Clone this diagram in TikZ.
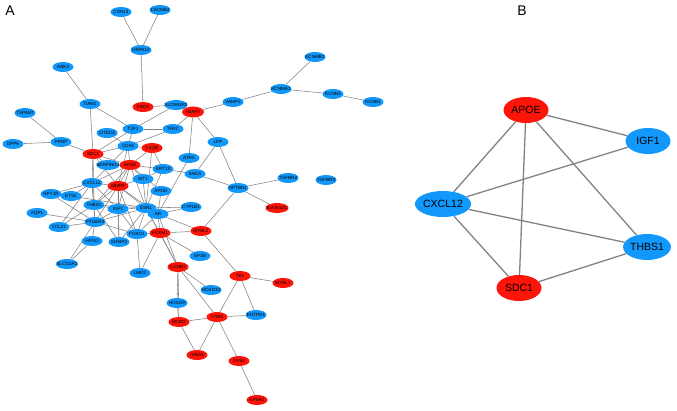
\documentclass[tikz,border=0pt]{standalone}
\usepackage{fontspec}
\setmainfont{Liberation Sans}
\usetikzlibrary{shapes.geometric}
\definecolor{nblue}{RGB}{17,152,250}
\definecolor{nred}{RGB}{254,20,8}
\definecolor{egray}{RGB}{130,130,130}
\pgfdeclarelayer{bg}\pgfsetlayers{bg,main}
\newcommand\glab[1]{\makebox[0pt]{#1}}
\begin{document}
\begin{tikzpicture}[x=1pt,y=-1pt,
 ga/.style={ellipse, inner sep=0pt, minimum width=21pt, minimum height=10pt, font=\fontsize{4.6}{5}\selectfont, text=black},
 nb/.style={ga, fill=nblue},
 nr/.style={ga, fill=nred},
 gb/.style={ellipse, inner sep=0pt, minimum width=45pt, minimum height=26pt, font=\fontsize{10.5}{12}\selectfont, text=black},
 bb/.style={gb, fill=nblue},
 br/.style={gb, fill=nred},
 ea/.style={draw=egray, line width=0.55pt},
 eb/.style={draw=egray, line width=1.3pt},
 plab/.style={font=\fontsize{14}{16}\selectfont, inner sep=0pt}]
\useasboundingbox (0,0) rectangle (677,411);
\node[plab] (labA) at (10,11) {A};
\node[plab] (labB) at (522,11) {B};
% ---- panel A nodes
\node[nb] (CDH13) at (121,12) {\glab{CDH13}};
\node[nb] (CACNB2) at (160,10) {\glab{CACNB2}};
\node[nb] (HSPA12) at (141,50) {\glab{HSPA12}};
\node[nb] (ANK3) at (63,67) {\glab{ANK3}};
\node[nb] (TIAM1) at (90,104) {\glab{TIAM1}};
\node[nr] (ENO3) at (143,107) {\glab{ENO3}};
\node[nb,minimum width=23pt] (SLC) at (176,105) {\glab{SLC9A3R2}};
\node[nr,minimum width=22pt,minimum height=11pt] (H2AFX) at (193,112) {\glab{H2AFX}};
\node[nb] (VAMP3) at (233,102) {\glab{VAMP3}};
\node[nb] (KCNMA1) at (281,89) {\glab{KCNMA1}};
\node[nb] (KCNMB1) at (315,57) {\glab{KCNMB1}};
\node[nb] (KCNN3) at (333,94) {\glab{KCNN3}};
\node[nb] (KCNB1) at (373,102) {\glab{KCNB1}};
\node[nb] (TSPAN7) at (25,113) {\glab{TSPAN7}};
\node[nb] (DPP6) at (13,144) {\glab{DPP6}};
\node[nb] (PRNP) at (61,142) {\glab{PRNP}};
\node[nb] (TJP1) at (133,129) {\glab{TJP1}};
\node[nb] (TFRC) at (173,129) {\glab{TFRC}};
\node[nb] (CITED2) at (107,133) {\glab{CITED2}};
\node[nb] (LPP) at (218,142) {\glab{LPP}};
\node[nb] (CD34) at (128,146) {\glab{CD34}};
\node[nr] (C1QB) at (152,148) {\glab{C1QB}};
\node[nr] (SDC1) at (93,154) {\glab{SDC1}};
\node[nb] (ATRX) at (189,158) {\glab{ATRX}};
\node[nb,minimum width=23pt] (SERPING1) at (108,165) {\glab{SERPING1}};
\node[nr] (APOE) at (130,165) {\glab{APOE}};
\node[nb] (KRT19) at (163,169) {\glab{KRT19}};
\node[nb] (SNCA) at (195,174) {\glab{SNCA}};
\node[nb] (WT1) at (143,179) {\glab{WT1}};
\node[nb] (CXCL12) at (92,183) {\glab{CXCL12}};
\node[nr] (MMP9) at (118,186) {\glab{MMP9}};
\node[nb] (SPTBN1) at (238,188) {\glab{SPTBN1}};
\node[nb] (TGFBR2) at (288,178) {\glab{TGFBR2}};
\node[nb] (TGFBR3) at (326,180) {\glab{TGFBR3}};
\node[nb] (APOD) at (161,191) {\glab{APOD}};
\node[nb] (NPY1R) at (51,194) {\glab{NPY1R}};
\node[nb] (ETS2) at (71,196) {\glab{ETS2}};
\node[nb] (THBS1) at (94,205) {\glab{THBS1}};
\node[nb] (CYP1B1) at (191,207) {\glab{CYP1B1}};
\node[nr,minimum width=23pt] (KIAA0101) at (277,208) {\glab{KIAA0101}};
\node[nb] (IGF1) at (118,209) {\glab{IGF1}};
\node[nb] (ESR1) at (146,208) {\glab{ESR1}};
\node[nb] (AR) at (158,214) {\glab{AR}};
\node[nb] (AQP1) at (37,213) {\glab{AQP1}};
\node[nb] (PTGER3) at (95,222) {\glab{PTGER3}};
\node[nb] (CCL21) at (59,227) {\glab{CCL21}};
\node[nr] (MYBL2) at (201,231) {\glab{MYBL2}};
\node[nr] (FOXM1) at (160,233) {\glab{FOXM1}};
\node[nb] (FOXO1) at (137,234) {\glab{FOXO1}};
\node[nb] (HPGD) at (92,241) {\glab{HPGD}};
\node[nb] (IGFBP2) at (119,242) {\glab{IGFBP2}};
\node[nb] (EPS8) at (200,256) {\glab{EPS8}};
\node[nb,minimum width=22pt] (SLCO2A1) at (67,264) {\glab{SLCO2A1}};
\node[nr] (CCNB1) at (178,267) {\glab{CCNB1}};
\node[nb] (LMO2) at (140,273) {\glab{LMO2}};
\node[nr] (TK1) at (240,276) {\glab{TK1}};
\node[nr] (MYBL1) at (283,283) {\glab{MYBL1}};
\node[nb] (HOXD10) at (211,290) {\glab{HOXD10}};
\node[nb] (HOXD9) at (177,303) {\glab{HOXD9}};
\node[nb] (ENTPD1) at (256,315) {\glab{ENTPD1}};
\node[nr] (TYMS) at (217,317) {\glab{TYMS}};
\node[nr] (MCM2) at (179,322) {\glab{MCM2}};
\node[nr] (GINS1) at (197,355) {\glab{GINS1}};
\node[nr] (CKS2) at (239,361) {\glab{CKS2}};
\node[nr] (KPNA2) at (257,400) {\glab{KPNA2}};
% ---- panel B nodes
\node[br] (bAPOE) at (526,110) {APOE};
\node[bb] (bIGF1) at (648,141) {IGF1};
\node[bb] (bCXCL12) at (443,204) {CXCL12};
\node[bb] (bTHBS1) at (647,247) {THBS1};
\node[br] (bSDC1) at (519,288) {SDC1};
\begin{pgfonlayer}{bg}
\foreach \a/\b in {CDH13/HSPA12, CACNB2/HSPA12, HSPA12/ENO3, ANK3/TIAM1, TIAM1/SDC1, TIAM1/TJP1,
  TSPAN7/PRNP, DPP6/PRNP, PRNP/SDC1, ENO3/SLC, SLC/TJP1, H2AFX/VAMP3, H2AFX/LPP, H2AFX/ATRX, H2AFX/TFRC,
  VAMP3/KCNMA1, KCNMA1/KCNMB1, KCNMA1/KCNN3, KCNN3/KCNB1, LPP/SNCA, LPP/SPTBN1, SNCA/SPTBN1, KRT19/SNCA,
  ATRX/AR, SPTBN1/TGFBR2, SPTBN1/KIAA0101, SPTBN1/MYBL2,
  TJP1/TFRC, TJP1/CD34, TJP1/SDC1, TFRC/CD34, CITED2/CD34,
  SDC1/CD34, SDC1/APOE, SDC1/CXCL12, SDC1/THBS1, SDC1/MMP9, SDC1/SERPING1,
  CD34/APOE, CD34/MMP9, CD34/CXCL12, CD34/C1QB, C1QB/APOE, C1QB/ESR1, C1QB/KRT19,
  APOE/KRT19, APOE/WT1, APOE/MMP9, APOE/CXCL12, APOE/IGF1, APOE/ESR1, APOE/THBS1, APOE/APOD,
  KRT19/ESR1, KRT19/WT1, WT1/ESR1, WT1/MMP9, APOD/AR,
  MMP9/CXCL12, MMP9/THBS1, MMP9/IGF1, MMP9/ESR1, MMP9/AR, MMP9/PTGER3, MMP9/FOXO1, MMP9/IGFBP2,
  CXCL12/ETS2, CXCL12/THBS1, CXCL12/IGF1, CXCL12/CCL21, CXCL12/NPY1R, CXCL12/PTGER3,
  NPY1R/PTGER3, ETS2/ESR1, AQP1/PTGER3,
  THBS1/IGF1, THBS1/PTGER3, THBS1/ESR1, THBS1/CCL21, THBS1/IGFBP2,
  IGF1/ESR1, IGF1/IGFBP2, IGF1/PTGER3, IGF1/FOXO1,
  ESR1/AR, ESR1/FOXO1, ESR1/FOXM1, ESR1/CYP1B1, ESR1/IGFBP2, ESR1/PTGER3, ESR1/CCNB1,
  AR/CYP1B1, AR/FOXM1, AR/MYBL2, AR/FOXO1, AR/CCNB1,
  PTGER3/HPGD, PTGER3/CCL21, PTGER3/SLCO2A1, PTGER3/FOXO1, HPGD/SLCO2A1,
  FOXO1/LMO2, FOXO1/FOXM1, FOXM1/MYBL2, FOXM1/CCNB1, FOXM1/EPS8, FOXM1/LMO2,
  MYBL2/TK1, CCNB1/HOXD10, CCNB1/HOXD9, CCNB1/TYMS, CCNB1/MCM2,
  TYMS/TK1, TYMS/MCM2, TYMS/GINS1, TYMS/ENTPD1, TYMS/CKS2,
  TK1/MYBL1, TK1/ENTPD1, MCM2/GINS1, HOXD9/MCM2, CKS2/KPNA2}
  \draw[ea] (\a) -- (\b);
\foreach \a/\b in {bAPOE/bIGF1, bAPOE/bCXCL12, bAPOE/bSDC1, bAPOE/bTHBS1, bCXCL12/bIGF1,
  bCXCL12/bTHBS1, bCXCL12/bSDC1, bSDC1/bTHBS1}
  \draw[eb] (\a) -- (\b);
\end{pgfonlayer}
\end{tikzpicture}
\end{document}
